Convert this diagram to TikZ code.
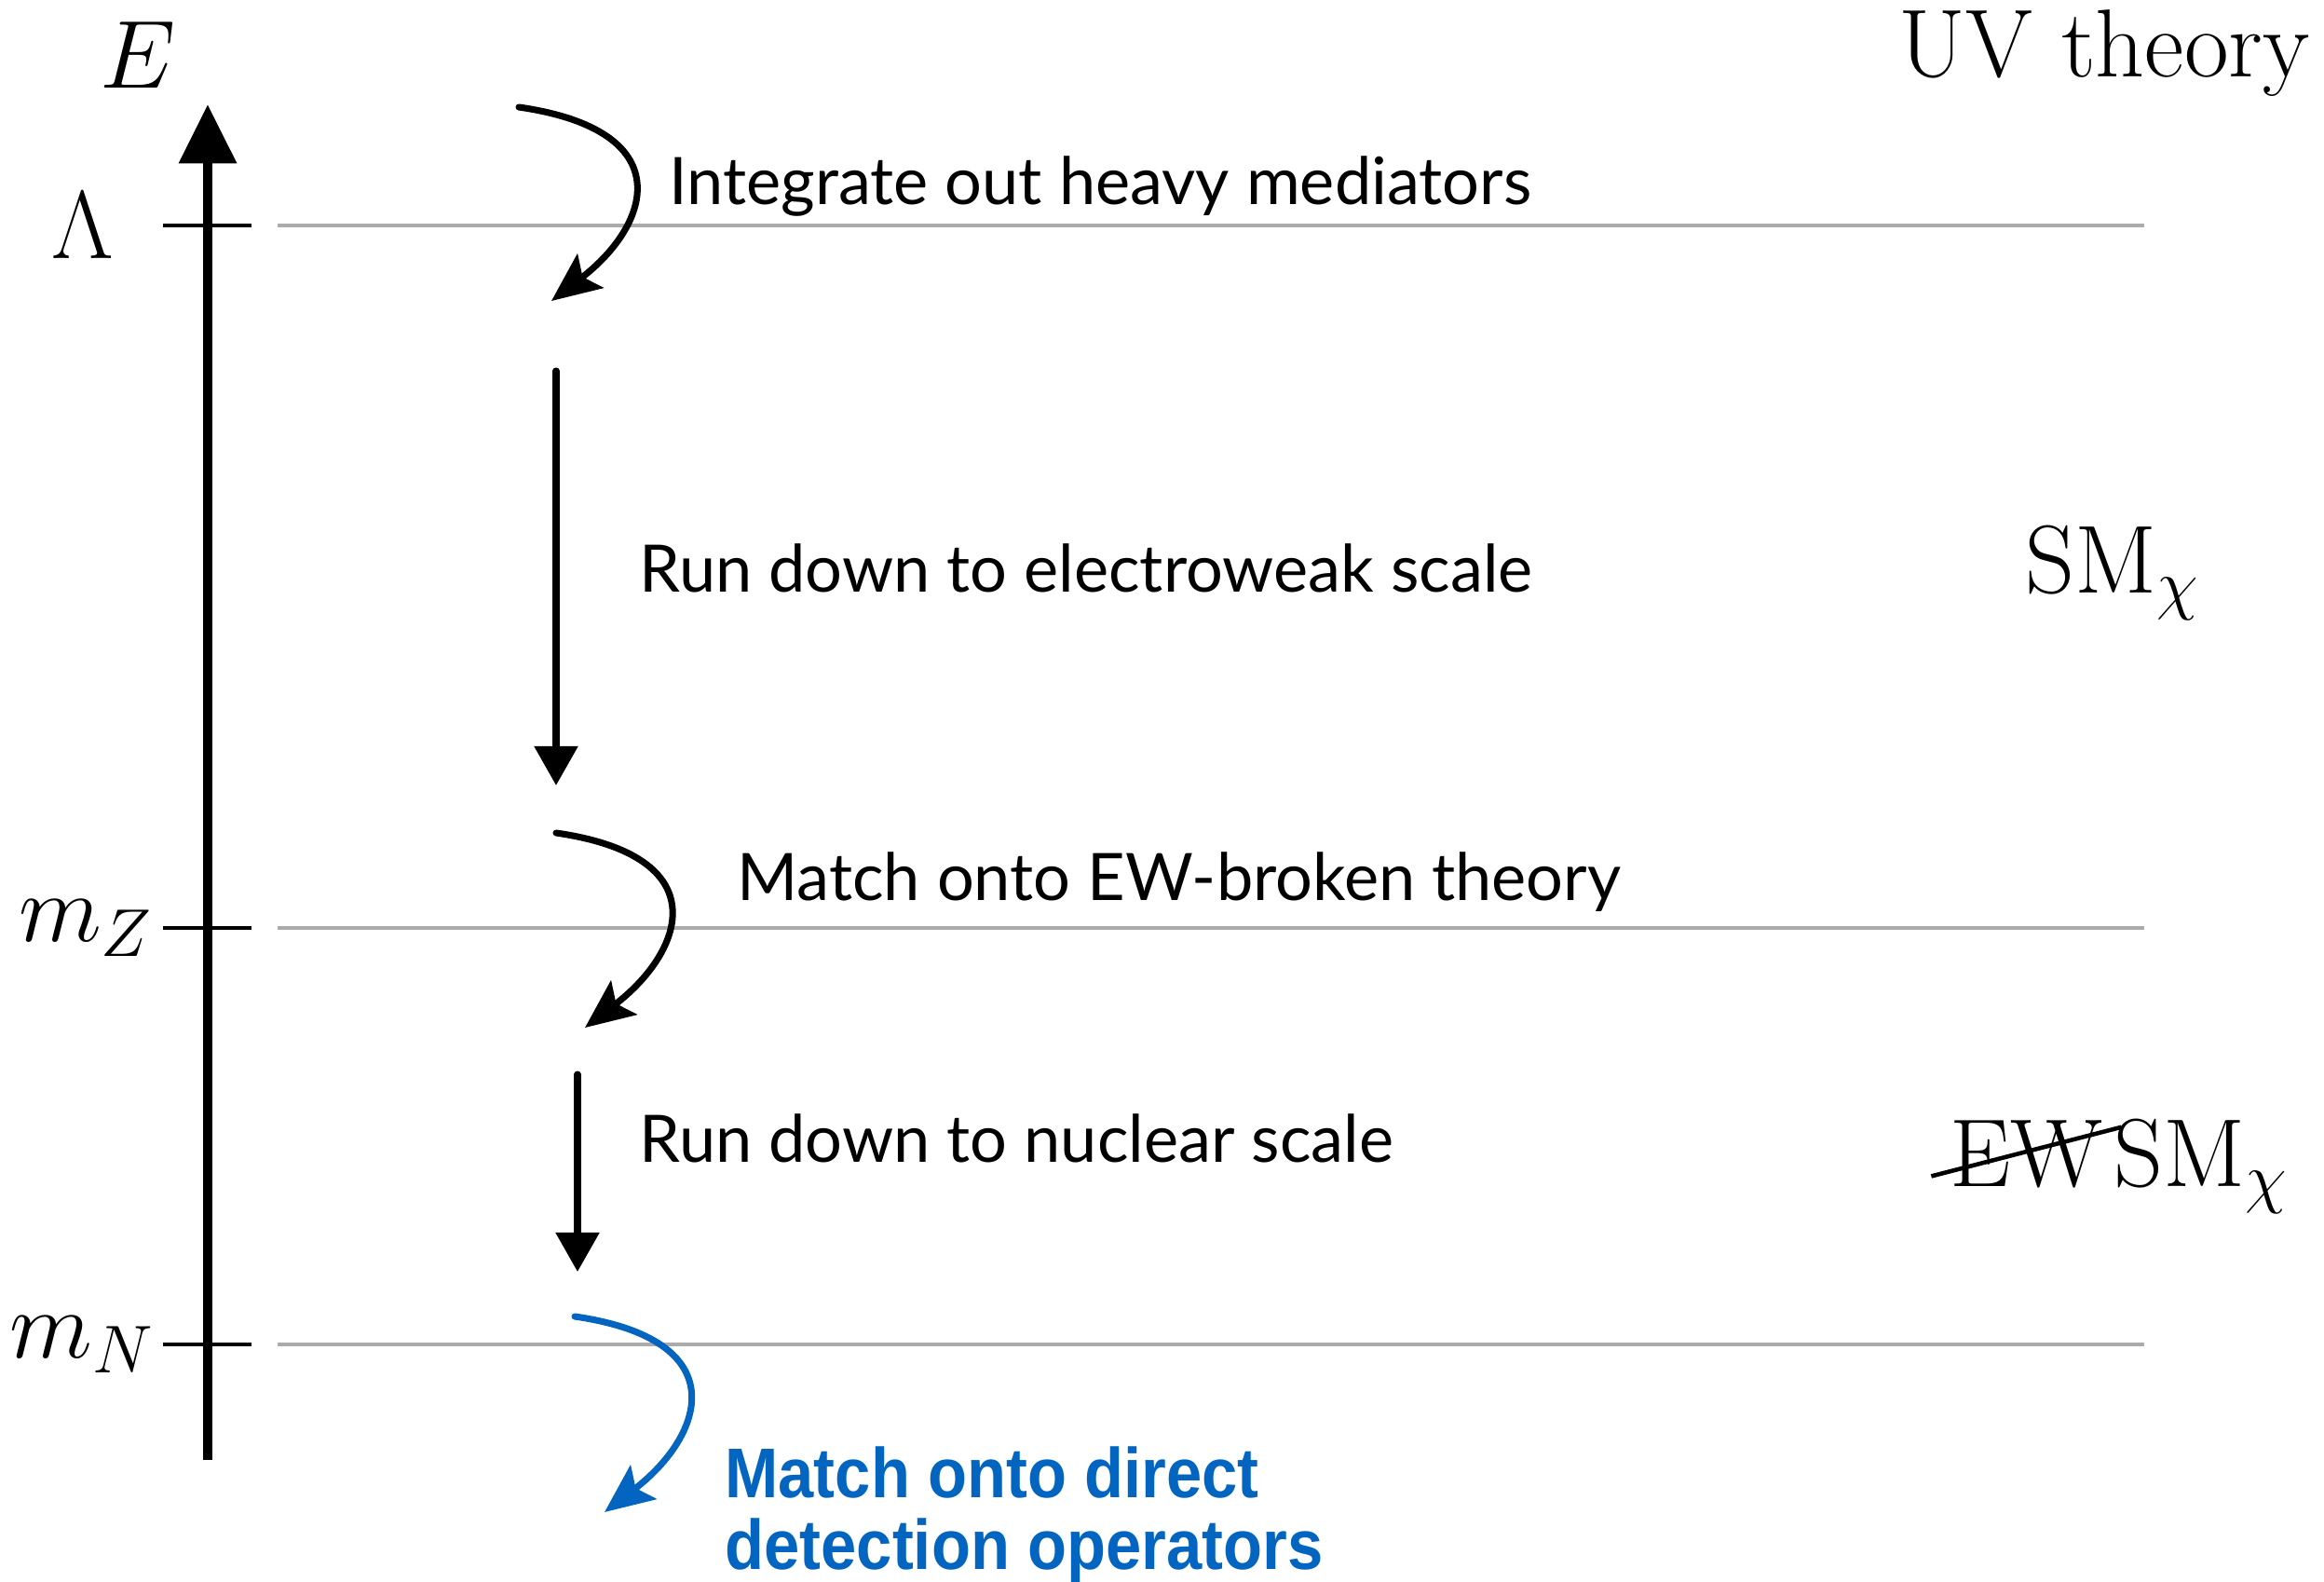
\RequirePackage{fix-cm}
\documentclass[tikz,border=0pt]{standalone}
\usepackage{amsmath}
\usepackage{amssymb}
\usepackage{fontspec}
\newfontfamily\thinsf{Lato}
\newfontfamily\heavysf[FakeStretch=0.91]{Liberation Sans}
\usetikzlibrary{arrows.meta,calc}
\definecolor{ddblue}{RGB}{3,101,192}
\begin{document}
\begin{tikzpicture}[line width=1.4pt,
 big/.style={font=\fontsize{29.5}{34}\selectfont,inner sep=0pt},
 lab/.style={font=\thinsf\fontsize{20}{24}\selectfont,anchor=base west,inner sep=0pt},
 blab/.style={font=\heavysf\bfseries\fontsize{21.5}{25}\selectfont,anchor=base west,inner sep=0pt,color=ddblue},
 level/.style={color=black!33,line width=1.4pt},
 curv/.style={line width=2pt,line cap=round,-{Stealth[length=15pt,width=13pt,inset=3pt]}},
 down/.style={line width=2pt,line cap=round,-{Triangle[length=12pt,width=13pt]}}]
\useasboundingbox (0,0) rectangle (24.95,-16.98);
\coordinate (bot) at (2.23,-15.67);
\coordinate (top) at (2.23,-1.12);
\draw[line width=3pt,-{Triangle[length=18pt,width=17pt]}] (bot) -- (top);
\node[big,anchor=base] (en) at (1.48,-0.95) {$E$};
\foreach \i/\y/\x/\t in {1/2.42/1.24/\Lambda,2/9.96/1.67/m_Z,3/14.43/1.68/m_N}{
  \coordinate (l\i) at (1.75,-\y); \coordinate (r\i) at (2.70,-\y);
  \coordinate (ga\i) at (2.98,-\y); \coordinate (gb\i) at (23.02,-\y);
  \draw (l\i) -- (r\i);
  \draw[level] (ga\i) -- (gb\i);
  \node[big,anchor=east] (sc\i) at (\x,-\y) {$\t$};
};
\node[big,anchor=base east] (uv) at (24.82,-0.83) {UV theory};
\node[big,anchor=base west] (sm1) at (21.72,-6.36) {$\mathrm{SM}_\chi$};
\node[big,anchor=base west] (sm2) at (22.67,-12.73) {$\mathrm{SM}_\chi$};
\node[big,anchor=base east] (ew) at ([xshift=-2pt]sm2.base west) {$\mathrm{EW}$};
\draw[line width=1.3pt] ([xshift=-5pt,yshift=3pt]ew.base west) -- ([xshift=5pt,yshift=18pt]ew.base east);
\coordinate (s1) at (5.57,-1.15); \coordinate (t1) at (5.92,-3.23);
\coordinate (s2) at (5.97,-8.94); \coordinate (t2) at (6.28,-11.03);
\coordinate (s3) at (6.17,-14.13); \coordinate (t3) at (6.49,-16.23);
\foreach \i/\c in {1/black,2/black,3/ddblue}{
  \draw[curv,color=\c] (s\i) .. controls ($(s\i)+(1.73,-0.25)$) and ($(t\i)+(1.08,0.83)$) .. (t\i);
};
\coordinate (a1) at (5.97,-3.98); \coordinate (b1) at (5.97,-8.43);
\coordinate (a2) at (6.20,-11.53); \coordinate (b2) at (6.20,-13.65);
\draw[down] (a1) -- (b1);
\draw[down] (a2) -- (b2);
\node[lab] (int) at (7.16,-2.20) {Integrate out heavy mediators};
\node[lab] (run1) at (6.84,-6.35) {Run down to electroweak scale};
\node[lab] (mat1) at (7.89,-9.66) {Match onto EW-broken theory};
\node[lab] (run2) at (6.84,-12.47) {Run down to nuclear scale};
\node[blab] (det1) at (7.76,-16.07) {Match onto direct};
\node[blab,anchor=base west] (det2) at ([yshift=-0.77cm]det1.base west) {detection operators};
\end{tikzpicture}
\end{document}
